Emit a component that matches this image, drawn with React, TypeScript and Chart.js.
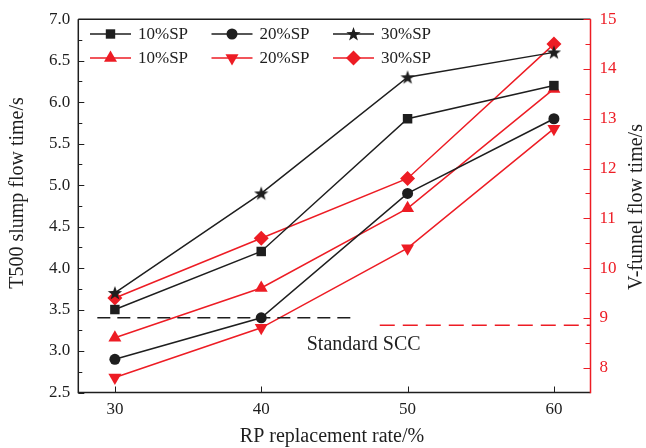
import React, { useEffect, useRef } from 'react';
import { Chart, registerables } from 'chart.js';

Chart.register(...registerables);

// ---- data ----
const rpRates = [30, 40, 50, 60];
const xTickValues = [30, 40, 50, 60];
const leftTickValues = [2.5, 3.0, 3.5, 4.0, 4.5, 5.0, 5.5, 6.0, 6.5, 7.0];
const rightTickValues = [8, 9, 10, 11, 12, 13, 14, 15];

const t500_10SP = [3.5, 4.2, 5.8, 6.2];
const t500_20SP = [2.9, 3.4, 4.9, 5.8];
const t500_30SP = [3.7, 4.9, 6.3, 6.6];

const vf_10SP = [8.6, 9.6, 11.2, 13.6];
const vf_20SP = [7.8, 8.8, 10.4, 12.8];
const vf_30SP = [9.4, 10.6, 11.8, 14.5];

const t500StdX = [28.8, 46.4];
const t500StdY = 3.4;
const vfStdX = [48.1, 62.5];
const vfStdY = 8.85;

const seriesLabels = ['10%SP', '20%SP', '30%SP'];
const stdLabel = 'Standard SCC';
const stdLabelPos = { x: 47, y: 3.07 };

const xTitle = 'RP replacement rate/%';
const leftTitle = 'T500 slump flow time/s';
const rightTitle = 'V-funnel flow time/s';

// ---- styles ----
const BLACK = '#1e1e1e';
const RED = '#ed1c24';
const FONT = '"Liberation Serif", "DejaVu Serif", serif';

function starPath(ctx: CanvasRenderingContext2D, cx: number, cy: number, ro: number, ri: number) {
  ctx.beginPath();
  for (let i = 0; i < 10; i++) {
    const r = i % 2 === 0 ? ro : ri;
    const a = -Math.PI / 2 + (i * Math.PI) / 5;
    const px = cx + r * Math.cos(a);
    const py = cy + r * Math.sin(a);
    if (i === 0) ctx.moveTo(px, py);
    else ctx.lineTo(px, py);
  }
  ctx.closePath();
}

function makeStar(color: string) {
  const c = document.createElement('canvas');
  c.width = 16;
  c.height = 16;
  const g = c.getContext('2d')!;
  g.fillStyle = color;
  starPath(g, 8, 8.5, 7.5, 3);
  g.fill();
  return c;
}

function drawMarker(ctx: CanvasRenderingContext2D, style: string, x: number, y: number, color: string) {
  ctx.save();
  ctx.fillStyle = color;
  ctx.beginPath();
  if (style === 'rect') {
    ctx.rect(x - 4.7, y - 4.7, 9.4, 9.4);
  } else if (style === 'circle') {
    ctx.arc(x, y, 5.5, 0, Math.PI * 2);
  } else if (style === 'star') {
    starPath(ctx, x, y + 0.5, 7.5, 3);
  } else if (style === 'triUp') {
    const r = 7.5;
    ctx.moveTo(x, y - r);
    ctx.lineTo(x + r * Math.sin((2 * Math.PI) / 3), y - r * Math.cos((2 * Math.PI) / 3));
    ctx.lineTo(x - r * Math.sin((2 * Math.PI) / 3), y - r * Math.cos((2 * Math.PI) / 3));
    ctx.closePath();
  } else if (style === 'triDown') {
    const r = 7.5;
    ctx.moveTo(x, y + r);
    ctx.lineTo(x + r * Math.sin((2 * Math.PI) / 3), y + r * Math.cos((2 * Math.PI) / 3));
    ctx.lineTo(x - r * Math.sin((2 * Math.PI) / 3), y + r * Math.cos((2 * Math.PI) / 3));
    ctx.closePath();
  } else if (style === 'diamond') {
    const r = 7.5;
    ctx.moveTo(x, y - r);
    ctx.lineTo(x + r, y);
    ctx.lineTo(x, y + r);
    ctx.lineTo(x - r, y);
    ctx.closePath();
  }
  ctx.fill();
  ctx.restore();
}

const toPts = (ys: number[]) => rpRates.map((x, i) => ({ x, y: ys[i] }));

const framePlugin = {
  id: 'framePlugin',
  afterDraw(chart: any) {
    const { ctx, chartArea: a, scales } = chart;
    const L = a.left, R = a.right, T = a.top, B = a.bottom;
    ctx.save();
    ctx.lineWidth = 1.5;
    // frame
    ctx.strokeStyle = BLACK;
    ctx.beginPath();
    ctx.moveTo(L, T); ctx.lineTo(R, T);
    ctx.moveTo(L, T); ctx.lineTo(L, B);
    ctx.moveTo(L - 0.75, B); ctx.lineTo(R, B);
    ctx.stroke();
    ctx.strokeStyle = RED;
    ctx.beginPath();
    ctx.moveTo(R, T); ctx.lineTo(R, B + 0.75);
    ctx.stroke();

    ctx.lineWidth = 1;
    // left ticks (inward)
    ctx.strokeStyle = BLACK;
    ctx.beginPath();
    for (let v = 2.5; v <= 7.0001; v += 0.25) {
      const y = Math.round(scales.y.getPixelForValue(v)) + 0.5;
      const major = Math.abs(v * 2 - Math.round(v * 2)) < 1e-6;
      ctx.moveTo(L, y); ctx.lineTo(L + (major ? 6 : 4), y);
    }
    // x ticks
    for (const v of xTickValues) {
      const x = Math.round(scales.x.getPixelForValue(v)) + 0.5;
      ctx.moveTo(x, B); ctx.lineTo(x, B - 6);
    }
    ctx.stroke();
    // right ticks
    ctx.strokeStyle = RED;
    ctx.beginPath();
    for (let v = 8; v <= 15.0001; v += 0.5) {
      const y = Math.round(scales.y1.getPixelForValue(v)) + 0.5;
      const major = Math.abs(v - Math.round(v)) < 1e-6;
      ctx.moveTo(R, y); ctx.lineTo(R - (major ? 7 : 5), y);
    }
    ctx.stroke();

    // titles
    ctx.fillStyle = BLACK;
    ctx.font = `20px ${FONT}`;
    ctx.textAlign = 'center';
    ctx.textBaseline = 'middle';
    ctx.fillText(xTitle, 332, 437);
    ctx.save();
    ctx.translate(18, 193);
    ctx.rotate(-Math.PI / 2);
    ctx.fillText(leftTitle, 0, 0);
    ctx.restore();
    ctx.save();
    ctx.translate(637, 207);
    ctx.rotate(-Math.PI / 2);
    ctx.fillText(rightTitle, 0, 0);
    ctx.restore();

    // standard label
    ctx.font = `20px ${FONT}`;
    ctx.fillText(stdLabel, scales.x.getPixelForValue(stdLabelPos.x), scales.y.getPixelForValue(stdLabelPos.y));

    // legend
    ctx.font = `17px ${FONT}`;
    const rows = [
      { y: 34, color: BLACK, styles: ['rect', 'circle', 'star'] },
      { y: 58, color: RED, styles: ['triUp', 'triDown', 'diamond'] },
    ];
    const colX = [90, 211.5, 333];
    ctx.textAlign = 'left';
    for (const row of rows) {
      for (let i = 0; i < 3; i++) {
        const x0 = colX[i];
        ctx.strokeStyle = row.color;
        ctx.lineWidth = 1.5;
        ctx.beginPath();
        ctx.moveTo(x0, row.y);
        ctx.lineTo(x0 + 41, row.y);
        ctx.stroke();
        drawMarker(ctx, row.styles[i], x0 + 20.5, row.y, row.color);
        ctx.fillStyle = BLACK;
        ctx.fillText(seriesLabels[i], x0 + 48, row.y + 1);
      }
    }
    ctx.restore();
  },
};

export default function App() {
  const ref = useRef<HTMLCanvasElement>(null);

  useEffect(() => {
    if (!ref.current) return;
    const starBlack = makeStar(BLACK);
    const lineDs = (label: string, ys: number[], color: string, axis: string, pointStyle: any, radius: number, rotation = 0) => ({
      label,
      data: toPts(ys),
      yAxisID: axis,
      borderColor: color,
      backgroundColor: color,
      borderWidth: 1.5,
      pointStyle,
      pointRadius: radius,
      pointRotation: rotation,
      pointBorderWidth: 0,
      pointBackgroundColor: color,
      tension: 0,
      clip: false,
    });
    const chart = new Chart(ref.current, {
      type: 'line',
      data: {
        datasets: [
          {
            label: 'std-t500',
            data: t500StdX.map((x) => ({ x, y: t500StdY })),
            yAxisID: 'y',
            borderColor: BLACK,
            borderWidth: 1.5,
            borderDash: [13, 7],
            pointRadius: 0,
            clip: false,
          } as any,
          {
            label: 'std-vf',
            data: vfStdX.map((x) => ({ x, y: vfStdY })),
            yAxisID: 'y1',
            borderColor: RED,
            borderWidth: 1.5,
            borderDash: [15, 8],
            pointRadius: 0,
            clip: false,
          } as any,
          lineDs('T500 ' + seriesLabels[0], t500_10SP, BLACK, 'y', 'rect', 6.7),
          lineDs('T500 ' + seriesLabels[1], t500_20SP, BLACK, 'y', 'circle', 5.5),
          lineDs('T500 ' + seriesLabels[2], t500_30SP, BLACK, 'y', starBlack, 8),
          lineDs('VF ' + seriesLabels[0], vf_10SP, RED, 'y1', 'triangle', 7.5),
          lineDs('VF ' + seriesLabels[1], vf_20SP, RED, 'y1', 'triangle', 7.5, 180),
          lineDs('VF ' + seriesLabels[2], vf_30SP, RED, 'y1', 'rectRot', 7.5),
        ],
      },
      options: {
        animation: false,
        responsive: true,
        maintainAspectRatio: false,
        layout: { padding: { top: 15.7, left: 0, right: 0, bottom: 0 } },
        plugins: { legend: { display: false }, tooltip: { enabled: false } },
        scales: {
          x: {
            type: 'linear',
            min: 27.5,
            max: 62.5,
            grid: { display: false, drawTicks: false },
            border: { display: false },
            ticks: { font: { family: FONT, size: 17 }, color: BLACK, padding: 7, maxRotation: 0 },
            afterBuildTicks: (s: any) => {
              s.ticks = xTickValues.map((v) => ({ value: v }));
            },
            afterFit: (s: any) => {
              s.height = 55.5;
            },
          },
          y: {
            type: 'linear',
            position: 'left',
            min: 2.5,
            max: 7.0,
            grid: { display: false, drawTicks: false },
            border: { display: false },
            ticks: {
              font: { family: FONT, size: 17 },
              color: BLACK,
              padding: 8,
              callback: (v: any) => Number(v).toFixed(1),
            },
            afterBuildTicks: (s: any) => {
              s.ticks = leftTickValues.map((v) => ({ value: v }));
            },
            afterFit: (s: any) => {
              s.width = 78.3;
            },
          },
          y1: {
            type: 'linear',
            position: 'right',
            min: 7.5,
            max: 15,
            grid: { display: false, drawTicks: false },
            border: { display: false },
            ticks: { font: { family: FONT, size: 17 }, color: RED, padding: 9 },
            afterBuildTicks: (s: any) => {
              s.ticks = rightTickValues.map((v) => ({ value: v }));
            },
            afterFit: (s: any) => {
              s.width = 55.5;
            },
          },
        },
      },
      plugins: [framePlugin],
    });
    return () => chart.destroy();
  }, []);

  return (
    <div style={{ position: 'absolute', left: 0, top: 0, width: 646, height: 448, background: '#fff' }}>
      <canvas ref={ref} />
    </div>
  );
}
